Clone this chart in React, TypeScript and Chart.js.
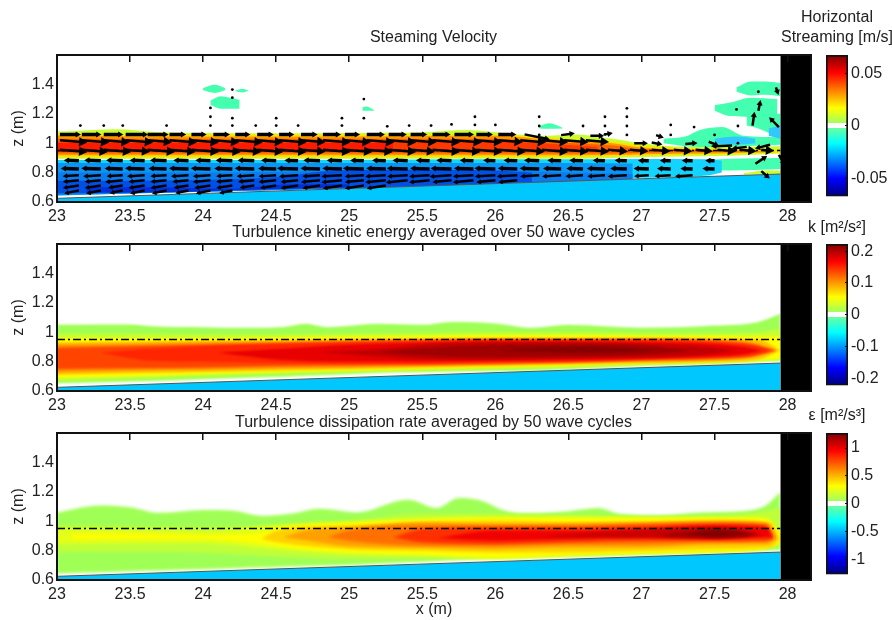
import React, { useEffect, useRef } from "react";
import { Chart, registerables } from "chart.js";

Chart.register(...registerables);
Chart.defaults.font.family = "'Liberation Sans', Arial, sans-serif";
Chart.defaults.color = "#222";

// ---------- shared axes ----------
const xTickValues = [23, 23.5, 24, 24.5, 25, 25.5, 26, 26.5, 27, 27.5, 28];
const zTickValues = [0.6, 0.8, 1, 1.2, 1.4];
const xMin = 23, xMax = 28.16, zMin = 0.6, zMax = 1.6;

// ---------- sea bed and still water ----------
const bedX = [23, 27.95];
const bedZ = [0.625, 0.79];
const waterX = [23, 27.95];
const waterZ = [0.95, 0.95];
const wallX = [27.95, 28.16];

type Band = { c: string; x: number[]; t: number[]; b: number[] };

// ---------- panel 1: horizontal streaming contour bands ----------
const streaming: Band[] = [
  { c: "#45ffb0", x: [27.4, 27.6, 27.95], t: [0.885, 0.895, 0.9], b: [0.82, 0.815, 0.825] },
  { c: "#c8ff30", x: [27.7, 27.85, 27.95], t: [0.795, 0.815, 0.815], b: [0.785, 0.79, 0.79] },
  { c: "#45ffb0", x: [27.65, 27.75, 27.85, 27.95], t: [1.38, 1.42, 1.42, 1.41], b: [1.35, 1.325, 1.33, 1.32] },
  { c: "#45ffb0", x: [27.5, 27.6, 27.75, 27.93], t: [1.26, 1.275, 1.31, 1.3], b: [1.22, 1.185, 1.18, 1.17] },
  { c: "#45ffb0", x: [27.72, 27.8, 27.95], t: [1.2, 1.2, 1.2], b: [1.12, 1.1, 1.03] },
  { c: "#45ffb0", x: [27.15, 27.3, 27.4, 27.55, 27.7, 27.95], t: [1.03, 1.045, 1.09, 1.11, 1.05, 1.04], b: [1.0, 0.98, 0.975, 0.975, 0.98, 0.99] },
  { c: "#30c8ff", x: [27.5, 27.65, 27.78], t: [1.03, 1.045, 1.03], b: [1.0, 0.99, 1.0] },
  { c: "#30c8ff", x: [27.87, 27.95], t: [1.1, 1.12], b: [1.05, 1.03] },
  { c: "#45ffb0", x: [24.0, 24.08, 24.15], t: [1.375, 1.397, 1.375], b: [1.36, 1.342, 1.36] },
  { c: "#45ffb0", x: [24.22, 24.27, 24.31], t: [1.357, 1.37, 1.358], b: [1.355, 1.345, 1.356] },
  { c: "#45ffb0", x: [24.05, 24.12, 24.25], t: [1.29, 1.32, 1.295], b: [1.26, 1.235, 1.235] },
  { c: "#45ffb0", x: [26.3, 26.37, 26.46], t: [1.115, 1.135, 1.105], b: [1.1, 1.098, 1.1] },
  { c: "#45ffb0", x: [25.09, 25.12, 25.17], t: [1.245, 1.25, 1.225], b: [1.22, 1.22, 1.22] },
  { c: "#c8ff30", x: [23, 23.15, 23.4, 23.7, 24, 24.5, 25, 25.5, 25.8, 26, 26.3, 26.55, 26.8, 27, 27.3, 27.6, 27.95], t: [1.08, 1.085, 1.095, 1.075, 1.07, 1.068, 1.07, 1.075, 1.09, 1.075, 1.05, 1.06, 1.03, 1.0, 0.975, 0.975, 0.98], b: [0.895, 0.895, 0.895, 0.895, 0.895, 0.895, 0.895, 0.895, 0.895, 0.895, 0.895, 0.895, 0.9, 0.905, 0.91, 0.915, 0.93] },
  { c: "#ffe000", x: [23, 24, 25, 26, 26.3, 26.8, 27, 27.5, 27.95], t: [1.065, 1.06, 1.06, 1.06, 1.04, 1.01, 0.985, 0.96, 0.955], b: [0.905, 0.905, 0.905, 0.905, 0.905, 0.91, 0.915, 0.925, 0.935] },
  { c: "#ff9800", x: [23, 24, 25, 26, 26.3, 26.8, 27, 27.5, 27.9], t: [1.05, 1.045, 1.045, 1.05, 1.03, 1.0, 0.97, 0.955, 0.945], b: [0.918, 0.918, 0.918, 0.918, 0.918, 0.92, 0.925, 0.93, 0.938] },
  { c: "#ff6000", x: [23, 24, 25, 26, 26.3, 26.8, 27, 27.5, 27.7], t: [1.03, 1.03, 1.03, 1.03, 1.01, 0.985, 0.96, 0.95, 0.945], b: [0.93, 0.93, 0.93, 0.93, 0.93, 0.93, 0.935, 0.94, 0.945] },
  { c: "#ff1a00", x: [23, 24, 25, 25.3], t: [1.005, 1.005, 1.005, 1.005], b: [0.94, 0.94, 0.94, 0.94] },
  { c: "#ff3800", x: [25.3, 26, 26.4, 26.7], t: [1.01, 1.01, 0.995, 0.975], b: [0.945, 0.945, 0.945, 0.945] },
  { c: "#12d4ff", x: [23, 24, 25, 26, 26.5, 27, 27.45, 27.55], t: [0.885, 0.885, 0.885, 0.89, 0.89, 0.893, 0.89, 0.88], b: [0.645, 0.67, 0.695, 0.725, 0.745, 0.765, 0.78, 0.8] },
  { c: "#0a96f5", x: [23, 24, 25, 26, 26.5, 26.94], t: [0.865, 0.865, 0.865, 0.865, 0.865, 0.862], b: [0.645, 0.67, 0.695, 0.725, 0.74, 0.757] },
  { c: "#0a7cee", x: [23, 24, 24.9, 26.2, 26.5, 26.94], t: [0.8, 0.8, 0.81, 0.81, 0.8, 0.79], b: [0.65, 0.67, 0.69, 0.725, 0.74, 0.755] },
  { c: "#0050e6", x: [23, 23.5, 24, 24.5, 24.9, 25.3, 26, 26.25], t: [0.745, 0.745, 0.75, 0.77, 0.815, 0.82, 0.815, 0.8], b: [0.66, 0.665, 0.675, 0.69, 0.695, 0.7, 0.72, 0.73] },
  { c: "#0030d8", x: [23.2, 23.6, 24.2, 24.6, 25], t: [0.7, 0.7, 0.69, 0.72, 0.72], b: [0.665, 0.665, 0.68, 0.69, 0.7] },
];

// ---------- panel 1: quiver rows ----------
const quiverRightX = [23.02, 23.17, 23.32, 23.47, 23.62, 23.77, 23.92, 24.07, 24.22, 24.37, 24.52, 24.67, 24.82, 24.97, 25.12, 25.27, 25.42, 25.57, 25.72, 25.87, 26.02, 26.17, 26.32, 26.47, 26.62, 26.77, 26.92, 27.07, 27.22, 27.37, 27.52, 27.67, 27.82];
const quiverLeftX = [23.15, 23.3, 23.45, 23.6, 23.75, 23.9, 24.05, 24.2, 24.35, 24.5, 24.65, 24.8, 24.95, 25.1, 25.25, 25.4, 25.55, 25.7, 25.85, 26.0, 26.15, 26.3, 26.45, 26.6, 26.75, 26.9, 27.05, 27.2, 27.35, 27.5, 27.65, 27.8, 27.95];
const N = null;
const rowZ = [1.06, 1.02, 0.955, 0.88, 0.825, 0.782, 0.748, 0.712, 0.678];
const rowSlope = [-0.01, -0.08, -0.08, 0.04, 0.03, -0.06, -0.1, -0.15, -0.2];
const rowWidth = [3.5, 2.5, 2.5, 3.5, 3.5, 2.5, 2.5, 2.5, 2.5];
const rowHead = [3.5, 5.5, 5.5, 3.5, 3.5, 3, 3, 3, 3];
const rowU = [
  [0.12, 0.11, 0.11, 0.13, 0.12, 0.09, 0.08, 0.09, 0.08, 0.09, 0.08, 0.09, 0.1, 0.08, 0.1, 0.1, 0.09, 0.1, 0.11, 0.09, 0.1, N, N, N, N, N, N, N, N, N, N, N, N],
  [0.15, 0.15, 0.14, 0.15, 0.13, 0.15, 0.15, 0.14, 0.15, 0.14, 0.15, 0.13, 0.15, 0.14, 0.15, 0.15, 0.14, 0.15, 0.15, 0.14, 0.13, 0.14, 0.14, 0.13, 0.12, N, N, N, N, N, N, N, N],
  [0.15, 0.14, 0.15, 0.13, 0.15, 0.14, 0.15, 0.15, 0.14, 0.14, 0.15, 0.13, 0.15, 0.15, 0.14, 0.15, 0.13, 0.15, 0.14, 0.14, 0.15, 0.13, 0.14, 0.13, 0.12, 0.1, 0.09, 0.09, 0.09, 0.08, 0.09, 0.08, 0.05],
  [-0.08, -0.09, -0.09, -0.08, -0.09, -0.08, -0.08, -0.09, -0.09, -0.08, -0.07, -0.09, -0.08, -0.07, -0.07, -0.08, -0.07, -0.08, -0.07, -0.06, -0.07, -0.08, -0.07, -0.07, -0.06, -0.06, -0.05, -0.05, -0.05, -0.04, N, N, N],
  [-0.1, -0.11, -0.1, -0.11, -0.1, -0.11, -0.11, -0.1, -0.11, -0.1, -0.12, -0.11, -0.11, -0.12, -0.11, -0.12, -0.11, -0.12, -0.11, -0.12, -0.11, -0.11, -0.1, -0.09, -0.1, -0.09, -0.08, -0.07, -0.06, -0.06, N, N, N],
  [-0.09, -0.1, -0.09, -0.1, -0.09, -0.1, -0.1, -0.09, -0.1, -0.1, -0.11, -0.1, -0.12, -0.11, -0.12, -0.12, -0.12, -0.13, -0.12, -0.12, -0.12, -0.11, -0.11, -0.1, -0.1, -0.11, -0.08, -0.09, -0.1, N, N, N, N],
  [-0.09, -0.09, -0.1, -0.09, -0.09, -0.09, -0.1, -0.09, -0.09, -0.1, -0.1, -0.11, -0.12, -0.11, -0.12, -0.13, -0.12, -0.11, -0.12, -0.11, -0.11, N, N, N, N, N, N, N, N, N, N, N, N],
  [-0.09, -0.09, -0.08, -0.09, -0.09, -0.08, -0.09, -0.09, -0.08, -0.09, -0.1, -0.1, -0.11, -0.11, -0.11, N, N, N, N, N, N, N, N, N, N, N, N, N, N, N, N, N, N],
  [-0.08, -0.08, -0.07, -0.08, -0.08, -0.07, -0.08, -0.07, N, N, N, N, N, N, N, N, N, N, N, N, N, N, N, N, N, N, N, N, N, N, N, N, N],
];
const extraX = [26.2, 26.45, 26.65, 26.75, 26.95, 27.07, 27.1, 27.3, 27.46, 27.62, 27.72, 27.88, 27.78, 27.76, 27.82, 27.94, 27.92, 27.8, 27.94];
const extraZ = [1.06, 1.055, 1.05, 1.06, 1.0, 1.005, 1.055, 0.995, 1.01, 0.985, 0.975, 0.99, 0.86, 1.12, 0.81, 1.11, 1.38, 1.22, 0.92];
const extraU = [0.15, 0.07, 0.07, 0.03, 0.07, 0.05, 0.03, 0.06, 0.05, -0.12, -0.08, -0.08, 0.06, 0.01, 0.04, -0.05, 0.01, 0.01, 0.03];
const extraW = [-0.03, 0.01, 0.0, 0.005, 0.0, -0.01, -0.01, 0.005, -0.02, -0.005, -0.01, -0.02, 0.04, 0.07, -0.035, 0.05, -0.03, 0.05, -0.05];
const dotX = [23.16, 23.32, 23.45, 23.75, 24.05, 24.05, 24.05, 24.2, 24.2, 24.2, 24.2, 24.36, 24.5, 24.5, 24.65, 24.95, 24.95, 25.1, 25.1, 25.26, 25.41, 25.56, 25.7, 25.86, 25.86, 26, 26.3, 26.3, 26.3, 26.6, 26.75, 26.75, 26.75, 26.9, 26.9, 26.9, 26.9, 27.2, 27.2, 27.36, 27.5, 27.66, 27.66, 27.8, 27.65];
const dotZ = [1.12, 1.12, 1.12, 1.12, 1.24, 1.18, 1.12, 1.365, 1.31, 1.17, 1.12, 1.12, 1.17, 1.12, 1.12, 1.17, 1.12, 1.3, 1.17, 1.115, 1.12, 1.12, 1.128, 1.18, 1.124, 1.124, 1.18, 1.117, 1.056, 1.117, 1.18, 1.117, 1.06, 1.237, 1.18, 1.117, 1.056, 1.124, 1.056, 1.11, 1.056, 1.117, 1.0, 1.35, 1.23];

// ---------- panel 2: turbulence kinetic energy contour bands ----------
const tkeNodes = [23, 23.5, 24, 24.5, 25, 25.5, 26, 26.5, 27, 27.5, 27.8, 27.95];
const tkeInner = [23, 23.5, 24, 24.5, 25, 25.5, 26, 26.5, 27, 27.5, 27.75, 27.92];
const tke: Band[] = [
  { c: "#a0ff55", x: [23, 23.5, 23.65, 24, 24.3, 24.55, 24.7, 24.85, 25.2, 25.5, 25.7, 26, 26.25, 26.5, 27, 27.5, 27.8, 27.95], t: [1.05, 1.052, 1.04, 1.034, 1.03, 1.035, 1.057, 1.034, 1.057, 1.05, 1.07, 1.06, 1.03, 1.05, 1.03, 1.045, 1.07, 1.125], b: [0.652, 0.665, 0.668, 0.68, 0.69, 0.697, 0.703, 0.708, 0.725, 0.73, 0.733, 0.737, 0.742, 0.75, 0.772, 0.785, 0.8, 0.805] },
  { c: "#c8ff30", x: tkeNodes, t: [0.99, 0.99, 0.985, 0.985, 0.99, 0.995, 1.0, 1.0, 0.995, 0.995, 1.0, 1.02], b: [0.67, 0.685, 0.7, 0.715, 0.73, 0.74, 0.75, 0.76, 0.78, 0.79, 0.805, 0.81] },
  { c: "#ffff00", x: tkeNodes, t: [0.96, 0.96, 0.96, 0.965, 0.97, 0.975, 0.98, 0.98, 0.975, 0.975, 0.97, 0.97], b: [0.69, 0.7, 0.715, 0.73, 0.74, 0.75, 0.76, 0.77, 0.785, 0.795, 0.81, 0.82] },
  { c: "#ffc000", x: tkeNodes, t: [0.93, 0.935, 0.94, 0.945, 0.95, 0.955, 0.96, 0.96, 0.96, 0.955, 0.95, 0.875], b: [0.71, 0.72, 0.73, 0.74, 0.75, 0.76, 0.77, 0.78, 0.79, 0.8, 0.815, 0.875] },
  { c: "#ff8c00", x: tkeInner, t: [0.915, 0.92, 0.93, 0.935, 0.945, 0.95, 0.955, 0.955, 0.955, 0.95, 0.93, 0.875], b: [0.73, 0.74, 0.745, 0.755, 0.76, 0.77, 0.78, 0.79, 0.8, 0.81, 0.83, 0.875] },
  { c: "#ff4400", x: tkeInner, t: [0.895, 0.905, 0.915, 0.925, 0.935, 0.945, 0.95, 0.95, 0.95, 0.94, 0.92, 0.875], b: [0.75, 0.755, 0.76, 0.77, 0.775, 0.78, 0.785, 0.795, 0.81, 0.82, 0.835, 0.875] },
  { c: "#ff2500", x: [23.3, 23.6, 24, 24.5, 25, 25.5, 26, 26.5, 27, 27.5, 27.75, 27.88], t: [0.86, 0.885, 0.905, 0.92, 0.93, 0.94, 0.945, 0.945, 0.945, 0.93, 0.91, 0.875], b: [0.86, 0.81, 0.8, 0.79, 0.785, 0.785, 0.795, 0.8, 0.815, 0.83, 0.845, 0.875] },
  { c: "#e80000", x: [24.1, 24.5, 25, 25.5, 26, 26.5, 27, 27.5, 27.7, 27.82], t: [0.86, 0.885, 0.915, 0.93, 0.94, 0.94, 0.935, 0.92, 0.9, 0.875], b: [0.86, 0.815, 0.8, 0.8, 0.805, 0.81, 0.82, 0.835, 0.85, 0.875] },
  { c: "#c00000", x: [24.8, 25.2, 25.5, 26, 26.5, 27, 27.4, 27.65], t: [0.865, 0.885, 0.915, 0.93, 0.93, 0.92, 0.905, 0.875], b: [0.865, 0.835, 0.82, 0.815, 0.825, 0.83, 0.845, 0.875] },
  { c: "#a00000", x: [25.2, 25.5, 26, 26.5, 27, 27.35], t: [0.865, 0.89, 0.915, 0.92, 0.91, 0.875], b: [0.865, 0.84, 0.83, 0.835, 0.845, 0.875] },
  { c: "#850000", x: [26, 26.3, 26.6, 26.9, 27.1], t: [0.875, 0.895, 0.9, 0.89, 0.875], b: [0.875, 0.865, 0.86, 0.865, 0.875] },
];

// ---------- panel 3: dissipation rate contour bands ----------
const epsNodes = [23, 23.5, 24, 24.5, 25, 25.5, 26, 26.5, 27, 27.5, 27.8, 27.95];
const eps: Band[] = [
  { c: "#a0ff55", x: [23, 23.3, 23.5, 23.7, 24, 24.2, 24.4, 24.6, 24.8, 25.05, 25.4, 25.6, 25.75, 25.9, 26.05, 26.2, 26.5, 26.7, 26.85, 27.1, 27.4, 27.7, 27.85, 27.95], t: [1.06, 1.107, 1.095, 1.057, 1.077, 1.072, 1.036, 1.05, 1.084, 1.06, 1.146, 1.09, 1.157, 1.14, 1.077, 1.054, 1.068, 1.089, 1.05, 1.04, 1.06, 1.07, 1.107, 1.198], b: [0.645, 0.652, 0.66, 0.665, 0.673, 0.68, 0.685, 0.692, 0.697, 0.703, 0.72, 0.73, 0.738, 0.745, 0.753, 0.755, 0.76, 0.765, 0.77, 0.778, 0.788, 0.798, 0.803, 0.805] },
  { c: "#c0ff38", x: epsNodes, t: [0.97, 0.965, 0.96, 0.97, 1.0, 1.05, 1.05, 1.04, 1.03, 1.04, 1.06, 1.09], b: [0.79, 0.79, 0.785, 0.76, 0.745, 0.745, 0.76, 0.775, 0.785, 0.795, 0.81, 0.82] },
  { c: "#e4ff18", x: epsNodes, t: [0.945, 0.94, 0.93, 0.975, 1.0, 1.02, 1.03, 1.03, 1.027, 1.027, 1.027, 0.93], b: [0.845, 0.85, 0.85, 0.81, 0.776, 0.765, 0.74, 0.764, 0.776, 0.787, 0.81, 0.85] },
  { c: "#ffff00", x: [23.1, 23.5, 24, 24.4, 24.6, 25, 25.5, 26, 26.5, 27, 27.5, 27.85, 27.95], t: [0.915, 0.915, 0.905, 0.92, 0.965, 0.985, 1.01, 1.02, 1.02, 1.02, 1.02, 1.02, 0.92], b: [0.875, 0.88, 0.88, 0.85, 0.82, 0.79, 0.775, 0.755, 0.77, 0.785, 0.795, 0.815, 0.86] },
  { c: "#ffd000", x: [24.4, 24.5, 25, 25.5, 26, 26.5, 27, 27.5, 27.88, 27.95], t: [0.88, 0.935, 0.97, 0.993, 1.004, 0.993, 0.993, 1.004, 0.99, 0.88], b: [0.88, 0.856, 0.81, 0.799, 0.787, 0.787, 0.799, 0.81, 0.821, 0.88] },
  { c: "#ffa000", x: [24.55, 24.7, 25, 25.5, 26, 26.5, 27, 27.5, 27.86, 27.93], t: [0.89, 0.936, 0.958, 0.993, 0.981, 0.985, 0.993, 1.0, 0.99, 0.885], b: [0.89, 0.87, 0.83, 0.821, 0.81, 0.821, 0.821, 0.844, 0.845, 0.885] },
  { c: "#ff7000", x: [24.85, 25, 25.5, 26, 26.5, 27, 27.5, 27.85, 27.92], t: [0.89, 0.936, 0.97, 0.97, 0.97, 0.981, 0.993, 0.981, 0.885], b: [0.89, 0.867, 0.833, 0.833, 0.844, 0.844, 0.856, 0.86, 0.885] },
  { c: "#ff3000", x: [25.3, 25.5, 26, 26.5, 27, 27.5, 27.85, 27.9], t: [0.89, 0.947, 0.958, 0.958, 0.97, 0.981, 0.97, 0.885], b: [0.89, 0.856, 0.844, 0.856, 0.867, 0.867, 0.87, 0.885] },
  { c: "#f00000", x: [25.6, 26, 26.5, 27, 27.5, 27.85, 27.9], t: [0.885, 0.936, 0.936, 0.947, 0.97, 0.958, 0.885], b: [0.885, 0.867, 0.879, 0.89, 0.879, 0.89, 0.885] },
  { c: "#c80000", x: [26.3, 26.7, 27, 27.5, 27.85], t: [0.895, 0.924, 0.94, 0.958, 0.905], b: [0.895, 0.89, 0.888, 0.885, 0.905] },
  { c: "#a00000", x: [27.1, 27.3, 27.5, 27.65, 27.8], t: [0.905, 0.93, 0.947, 0.94, 0.91], b: [0.905, 0.89, 0.888, 0.89, 0.91] },
  { c: "#800000", x: [27.3, 27.5, 27.75], t: [0.91, 0.936, 0.91], b: [0.91, 0.893, 0.91] },
];

// ---------- colour bars ----------
const jetStops: [number, string][] = [
  [0, "#00007f"], [0.125, "#0000ff"], [0.375, "#00ffff"], [0.483, "#6affa0"], [0.483, "#ffffff"],
  [0.517, "#ffffff"], [0.517, "#a0ff60"], [0.625, "#ffff00"], [0.875, "#ff0000"], [1, "#7f0000"],
];
const streamingRange = 0.0674;
const streamingTicks = [-0.05, 0, 0.05];
const tkeRange = 0.223;
const tkeTicks = [-0.2, -0.1, 0, 0.1, 0.2];
const epsRange = 1.27;
const epsTicks = [-1, -0.5, 0, 0.5, 1];

// ---------- dataset builders ----------
const xy = (xs: number[], zs: number[]) => xs.map((x, i) => ({ x, y: zs[i] }));
const base = { pointRadius: 0, borderColor: "transparent", borderWidth: 1, cubicInterpolationMode: "monotone" };

function bandSets(b: Band, sharp = false) {
  return [
    { ...base, sharp, data: xy(b.x, b.t), fill: { target: "+1" }, backgroundColor: b.c },
    { ...base, sharp, data: xy(b.x, b.b), fill: false },
  ];
}

function commonBands(list: Band[]) {
  const layers: any[] = [];
  for (const b of list) layers.push(bandSets(b));
  layers.push(bandSets({ c: "#00c8ff", x: bedX, t: bedZ, b: [zMin, zMin] }, true));
  layers.push([{ sharp: true, pointRadius: 0, borderColor: "#555", borderWidth: 1, data: xy(bedX, bedZ), fill: false }]);
  layers.push(bandSets({ c: "#000000", x: wallX, t: [zMax, zMax], b: [zMin, zMin] }, true));
  return layers;
}

function waterLine() {
  return { sharp: true, pointRadius: 0, borderColor: "#000", borderWidth: 1.6, borderDash: [8, 3, 2, 3], data: xy(waterX, waterZ), fill: false };
}

function quiverSets() {
  const sets: any[] = [];
  rowU.forEach((us, r) => {
    const shaft: any[] = [];
    const tips: any[] = [];
    const rot: number[] = [];
    us.forEach((u, i) => {
      if (u === null) return;
      const w = Math.abs(u) * rowSlope[r];
      const x = (u > 0 ? quiverRightX : quiverLeftX)[i], z = rowZ[r];
      shaft.push({ x, y: z }, { x: x + u, y: z + w }, { x, y: null });
      tips.push({ x: x + u, y: z + w });
      rot.push((Math.atan2(u, w) * 180) / Math.PI);
    });
    sets.push({ sharp: true, data: shaft, borderColor: "#000", borderWidth: rowWidth[r], pointRadius: 0, spanGaps: false, fill: false });
    sets.push({ sharp: true, data: tips, showLine: false, pointStyle: "triangle", pointRadius: rowHead[r], pointRotation: rot, pointBackgroundColor: "#000", pointBorderColor: "#000", pointBorderWidth: 0, fill: false });
  });
  const shaft: any[] = [];
  const tips: any[] = [];
  const rot: number[] = [];
  extraX.forEach((x, i) => {
    const u = extraU[i], w = extraW[i], z = extraZ[i];
    shaft.push({ x, y: z }, { x: x + u, y: z + w }, { x, y: null });
    tips.push({ x: x + u, y: z + w });
    rot.push((Math.atan2(u, w) * 180) / Math.PI);
  });
  sets.push({ sharp: true, data: shaft, borderColor: "#000", borderWidth: 2.5, pointRadius: 0, spanGaps: false, fill: false });
  sets.push({ sharp: true, data: tips, showLine: false, pointStyle: "triangle", pointRadius: 3.5, pointRotation: rot, pointBackgroundColor: "#000", pointBorderWidth: 0, fill: false });
  sets.push({ sharp: true, data: xy(dotX, dotZ), showLine: false, pointRadius: 1.4, pointBackgroundColor: "#000", pointBorderWidth: 0, fill: false });
  return sets;
}

// ---------- geometry ----------
const chartLeft = 57, chartRight = 811, plotH = 147, panelW = 867;
const titleLine = 18;

const thick = (n: number) => (s: any) => { s.width = n; };
const tall = (n: number) => (s: any) => { s.height = n; };

// softens contour edges the way the scanned reference does
function softBands(amount: number) {
  const filterFor = (ds: any) => (ds && !ds.sharp ? `blur(${amount}px)` : "none");
  return {
    id: "softBands",
    beforeDatasetsDraw(chart: any) {
      const ds = chart.data.datasets;
      chart.ctx.filter = filterFor(ds[ds.length - 1]);
    },
    beforeDatasetDraw(chart: any) { chart.ctx.filter = "none"; },
    afterDatasetDraw(chart: any, args: any) { chart.ctx.filter = filterFor(chart.data.datasets[args.index - 1]); },
    afterDatasetsDraw(chart: any) { chart.ctx.filter = "none"; },
  };
}

function Panel(p: { areaTop: number; title: string; gap: number; below: number; soft: number; layers: any[]; xTitle?: string }) {
  const ref = useRef<HTMLCanvasElement>(null);
  const top = p.areaTop - titleLine - p.gap;
  const h = titleLine + p.gap + plotH + p.below;
  useEffect(() => {
    const datasets: any[] = [];
    for (const layer of p.layers.slice().reverse()) datasets.push(...layer);
    const frame = { display: true, width: 2, color: "#111", z: 1 };
    const setX = (s: any) => { s.ticks = xTickValues.map((value) => ({ value })); };
    const chart = new Chart(ref.current!, {
      type: "line",
      data: { datasets },
      plugins: [softBands(p.soft)],
      options: {
        animation: false,
        responsive: false,
        events: [],
        layout: { padding: 0 },
        plugins: {
          legend: { display: false },
          tooltip: { enabled: false },
          title: { display: true, text: p.title, font: { size: 16, weight: "normal", lineHeight: titleLine / 16 }, padding: { top: 0, bottom: p.gap }, color: "#222" },
        },
        scales: {
          x: {
            type: "linear", min: xMin, max: xMax, position: "bottom", afterFit: tall(p.below), afterBuildTicks: setX,
            grid: { display: false, drawTicks: false }, border: frame,
            ticks: { font: { size: 16 }, padding: 5, maxRotation: 0, autoSkip: false, callback: (v: any) => String(v), color: "#222" },
            title: p.xTitle ? { display: true, text: p.xTitle, font: { size: 16, lineHeight: 1.2 }, padding: { top: 0 }, color: "#222" } : { display: false },
          },
          xTop: {
            type: "linear", min: xMin, max: xMax, position: "top", afterFit: tall(0), afterBuildTicks: setX,
            grid: { display: true, drawOnChartArea: false, drawTicks: true, tickLength: -7, color: "#111", lineWidth: 1.5, z: 1 },
            border: frame, ticks: { display: false },
          },
          y: {
            type: "linear", min: zMin, max: zMax, position: "left", afterFit: thick(chartLeft),
            afterBuildTicks: (s: any) => { s.ticks = zTickValues.map((value) => ({ value })); },
            grid: { display: false, drawTicks: false }, border: frame,
            ticks: { font: { size: 16 }, padding: 3, autoSkip: false, callback: (v: any) => String(v), color: "#222" },
            title: { display: true, text: "z (m)", font: { size: 16, lineHeight: 1.2 }, padding: { top: 9 }, color: "#222" },
          },
          yRight: {
            type: "linear", min: zMin, max: zMax, position: "right", afterFit: thick(panelW - chartRight),
            grid: { display: false }, border: frame, ticks: { display: false },
          },
        },
      } as any,
    });
    return () => chart.destroy();
  }, []);
  return <canvas ref={ref} width={panelW} height={h} style={{ position: "absolute", left: 0, top, display: "block", filter: "blur(0.4px)" }} />;
}

function ColorBar(p: { areaTop: number; title: string | string[]; gap: number; lines: number; range: number; ticks: number[] }) {
  const ref = useRef<HTMLCanvasElement>(null);
  const lineH = p.lines > 1 ? 19.5 : titleLine;
  const titleH = lineH * p.lines + p.gap;
  const top = p.areaTop - titleH;
  const w = 114, left = 780, barL = 826, barR = 848;
  const h = titleH + plotH + 10;
  useEffect(() => {
    const chart = new Chart(ref.current!, {
      type: "bar",
      data: {
        labels: [""],
        datasets: [{
          data: [[-p.range, p.range]],
          yAxisID: "y",
          barPercentage: 1, categoryPercentage: 1,
          borderColor: "#111", borderWidth: 2, borderSkipped: false,
          backgroundColor: (ctx: any) => {
            const area = ctx.chart.chartArea;
            if (!area) return "#000";
            const g = ctx.chart.ctx.createLinearGradient(0, area.bottom, 0, area.top);
            jetStops.forEach(([t, c]) => g.addColorStop(t, c));
            return g;
          },
        }],
      },
      options: {
        animation: false,
        responsive: false,
        events: [],
        layout: { padding: { left: 0, right: 0, top: 0, bottom: 10 } },
        plugins: {
          legend: { display: false },
          tooltip: { enabled: false },
          title: { display: true, text: p.title, font: { size: 16, weight: "normal", lineHeight: lineH / 16 }, padding: { top: 0, bottom: p.gap }, color: "#222" },
        },
        scales: {
          x: { display: false },
          yLeft: {
            type: "linear", position: "left", min: -p.range, max: p.range, afterFit: thick(barL - left),
            grid: { display: false }, border: { display: false }, ticks: { display: false },
          },
          y: {
            type: "linear", position: "right", min: -p.range, max: p.range, afterFit: thick(left + w - barR),
            afterBuildTicks: (s: any) => { s.ticks = p.ticks.map((value) => ({ value })); },
            grid: { display: true, drawOnChartArea: false, drawTicks: true, tickLength: -3, color: "#111", z: 1 },
            border: { display: false },
            ticks: { font: { size: 16 }, padding: 6, autoSkip: false, callback: (v: any) => String(v), color: "#222" },
          },
        },
      } as any,
    });
    return () => chart.destroy();
  }, []);
  return <canvas ref={ref} width={w} height={h} style={{ position: "absolute", left, top, display: "block", filter: "blur(0.3px)" }} />;
}

export default function App() {
  return (
    <div style={{ position: "fixed", left: 0, top: 0, width: 892, height: 620, overflow: "hidden", background: "#fff" }}>
      <Panel areaTop={55} title="Steaming Velocity" gap={8} below={24} soft={0.5} layers={[...commonBands(streaming), [waterLine()], [...quiverSets()]]} />
      <Panel areaTop={244} title="Turbulence kinetic energy averaged over 50 wave cycles" gap={2} below={24} soft={1.3} layers={[...commonBands(tke), [waterLine()]]} />
      <Panel areaTop={433} title="Turbulence dissipation rate averaged by 50 wave cycles" gap={1} below={43} soft={1.6} xTitle="x (m)" layers={[...commonBands(eps), [waterLine()]]} />
      <ColorBar areaTop={55} title={["Horizontal", "Streaming [m/s]"]} lines={2} gap={8} range={streamingRange} ticks={streamingTicks} />
      <ColorBar areaTop={244} title="k [m²/s²]" lines={1} gap={7} range={tkeRange} ticks={tkeTicks} />
      <ColorBar areaTop={433} title="ε [m²/s³]" lines={1} gap={8} range={epsRange} ticks={epsTicks} />
    </div>
  );
}
